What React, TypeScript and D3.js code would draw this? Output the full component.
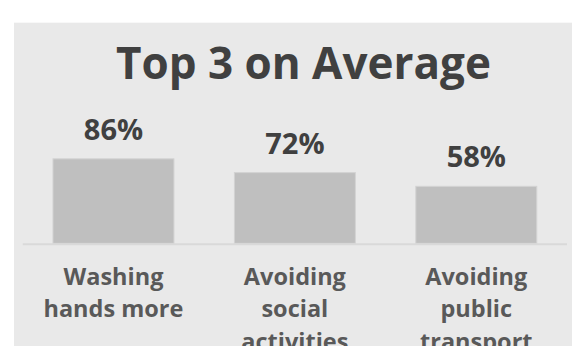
import React from "react";
import * as d3 from "d3";

const title = "Top 3 on Average";
const categories = ["Washing hands more", "Avoiding social activities", "Avoiding public transport"];
const categoryLines = [["Washing", "hands more"], ["Avoiding", "social", "activities"], ["Avoiding", "public", "transport"]];
const values = [86, 72, 58];
const valueLabels = ["86%", "72%", "58%"];

const W = 572;
const H = 346;
const FONT = "'Open Sans', 'Noto Sans', sans-serif";

export default function App() {
  const x = d3.scaleBand<string>().domain(categories).range([22.75, 567]).paddingInner(1 / 3).paddingOuter(1 / 6);
  const y = d3.scaleLinear().domain([0, 100]).range([243.3, 145.1]);

  return (
    <svg width={W} height={H} style={{ position: "absolute", left: 0, top: 0 }} xmlns="http://www.w3.org/2000/svg">
      <rect x={0} y={0} width={W} height={H} fill="#ffffff" />
      <rect x={14} y={22.7} width={W - 14} height={H - 22.7} fill="#e9e9e9" />
      <text x={303.4} y={79.3} textAnchor="middle" fontFamily={FONT} fontWeight={700} fontSize={44} fill="#404040">
        {title}
      </text>
      {categories.map((c, i) => (
        <rect key={"b" + i} x={x(c)} y={y(values[i])} width={x.bandwidth()} height={y(0) - y(values[i])} fill="#bfbfbf" stroke="#d2d2d2" strokeWidth={1} />
      ))}
      <line x1={22.75} x2={567} y1={y(0) + 1} y2={y(0) + 1} stroke="#d9d9d9" strokeWidth={2} />
      {categories.map((c, i) => (
        <text key={"v" + i} x={(x(c) as number) + x.bandwidth() / 2} y={y(values[i]) - 19} textAnchor="middle" fontFamily={FONT} fontWeight={700} fontSize={29} fill="#404040">
          {valueLabels[i]}
        </text>
      ))}
      {categories.map((c, i) => (
        <text key={"c" + i} textAnchor="middle" fontFamily={FONT} fontWeight={700} fontSize={23.5} fill="#595959">
          {categoryLines[i].map((ln, j) => (
            <tspan key={j} x={(x(c) as number) + x.bandwidth() / 2} y={284.5 + j * 32.5}>
              {ln}
            </tspan>
          ))}
        </text>
      ))}
    </svg>
  );
}
